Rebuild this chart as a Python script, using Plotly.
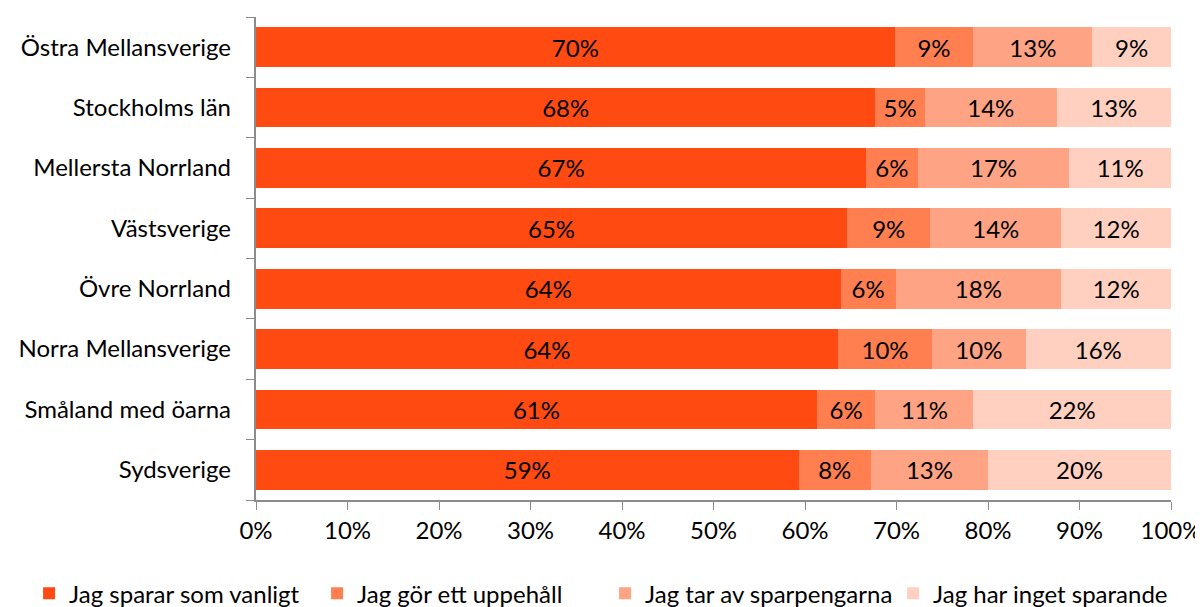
import plotly.graph_objects as go

regions = ["Östra Mellansverige", "Stockholms län", "Mellersta Norrland", "Västsverige",
           "Övre Norrland", "Norra Mellansverige", "Småland med öarna", "Sydsverige"]
series_names = ["Jag sparar som vanligt", "Jag gör ett uppehåll",
                "Jag tar av sparpengarna", "Jag har inget sparande"]
sparar = [0.698, 0.677, 0.667, 0.646, 0.639, 0.636, 0.613, 0.593]
uppehall = [0.086, 0.054, 0.056, 0.091, 0.060, 0.103, 0.064, 0.079]
tar_av = [0.130, 0.144, 0.166, 0.143, 0.181, 0.102, 0.107, 0.128]
inget = [0.086, 0.125, 0.111, 0.120, 0.120, 0.159, 0.216, 0.200]
colors = ["#FF4A12", "#FF7F50", "#FFA385", "#FFD0C0"]
x_ticks = [0, 0.1, 0.2, 0.3, 0.4, 0.5, 0.6, 0.7, 0.8, 0.9, 1.0]

FONT = "Lato"
FS = 24
fig = go.Figure()
for name, vals, col in zip(series_names, [sparar, uppehall, tar_av, inget], colors):
    fig.add_trace(go.Bar(
        y=regions, x=vals, name=name, orientation="h",
        marker=dict(color=col, line=dict(width=0)),
        texttemplate="%{x:.0%}", textposition="inside", insidetextanchor="middle",
        textangle=0,
        textfont=dict(color="black", size=FS, family=FONT),
        hoverinfo="skip",
    ))

# page body has an 8px margin: figure is shifted by 8px right and down
fig.update_layout(
    barmode="stack", bargap=0.34,
    width=1195, height=599,
    margin=dict(l=248, r=32, t=9, b=107, autoexpand=False),
    plot_bgcolor="white", paper_bgcolor="white",
    font=dict(family=FONT, size=FS, color="black"),
    showlegend=True,
    legend=dict(orientation="h", x=-0.248, xanchor="left",
                y=-0.194, yanchor="middle", font=dict(size=FS, family=FONT),
                traceorder="normal", itemwidth=30, tracegroupgap=0,
                entrywidth=243, entrywidthmode="pixels"),
)
fig.update_xaxes(range=[0, 1], tickvals=x_ticks, tickformat=".0%", tickangle=0,
                 showgrid=False, zeroline=False, showline=True, linecolor="#8c8c8c",
                 linewidth=1.5, ticks="outside", ticklen=8, tickcolor="#8c8c8c",
                 tickfont=dict(size=FS, family=FONT))
fig.update_yaxes(categoryorder="array", categoryarray=regions[::-1],
                 showgrid=False, showline=True, linecolor="#8c8c8c", linewidth=1.5,
                 ticks="outside", ticklen=8, tickcolor="#8c8c8c", tickson="boundaries",
                 tickfont=dict(size=FS, family=FONT), ticksuffix="   ")
fig.write_html("out.html")
